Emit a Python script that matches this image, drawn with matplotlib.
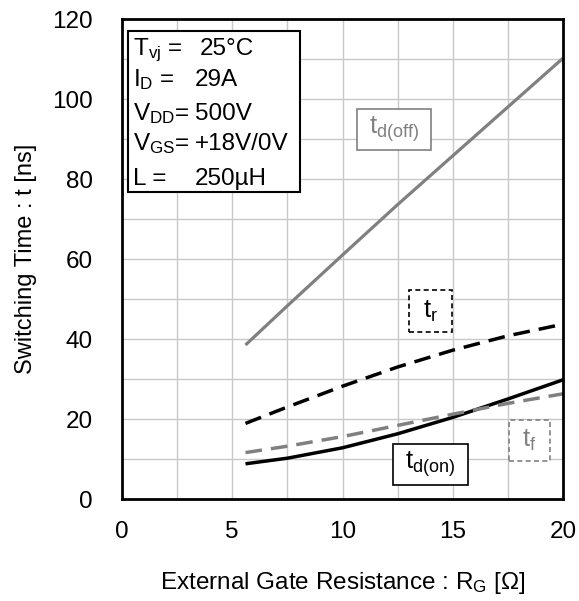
import matplotlib
matplotlib.use("Agg")
import matplotlib.pyplot as plt
from matplotlib.patches import Rectangle
from matplotlib.ticker import MultipleLocator

plt.rcParams['font.family'] = ['Liberation Sans', 'DejaVu Sans']
plt.rcParams['mathtext.default'] = 'regular'

## data (R_G in ohm, times in ns)
rg = [5.6, 7.5, 10, 12.5, 15, 17.5, 20]
t_doff = [38.5, 48.3, 61.0, 73.6, 85.8, 98.0, 110.2]
t_r = [18.9, 23.0, 28.2, 33.0, 37.2, 40.8, 43.7]
t_don = [8.8, 10.2, 12.8, 16.3, 20.4, 25.0, 29.8]
t_f = [11.6, 13.2, 15.6, 18.4, 21.2, 23.9, 26.3]

cond_names = ["T$_{vj}$ =", "I$_{D}$ =", "V$_{DD}$=", "V$_{GS}$=", "L ="]
cond_values = ["25°C", "29A", "500V", "+18V/0V", "250µH"]

gray = "#808080"

fig = plt.figure(figsize=(5.79, 6.01), dpi=100)
ax = fig.add_axes([122/579, 1 - 499/601, 441/579, 480/601])

ax.plot(rg, t_doff, color=gray, lw=2.3, solid_capstyle='butt')
ax.plot(rg, t_don, color='black', lw=2.5, solid_capstyle='butt')
ax.plot(rg, t_r, color='black', lw=2.5, dashes=(4.8, 2.6))
ax.plot(rg, t_f, color=gray, lw=2.5, dashes=(4.8, 2.6))

ax.set_xlim(0, 20)
ax.set_ylim(0, 120)
ax.xaxis.set_major_locator(MultipleLocator(5))
ax.xaxis.set_minor_locator(MultipleLocator(2.5))
ax.yaxis.set_major_locator(MultipleLocator(20))
ax.yaxis.set_minor_locator(MultipleLocator(10))
ax.grid(which='both', color='#c8c8c8', lw=1.0)
ax.set_axisbelow(True)
ax.tick_params(which='both', length=0, labelsize=17.5)
ax.tick_params(axis='y', pad=21)
ax.tick_params(axis='x', pad=16)
for s in ax.spines.values():
    s.set_linewidth(2.0)

ax.set_xlabel("External Gate Resistance : R$_{G}$ [Ω]", fontsize=17.5)
ax.set_ylabel("Switching Time : t [ns]", fontsize=17)
ax.xaxis.set_label_coords(0.5, -0.148)
ax.yaxis.set_label_coords(-0.193, 0.5)

## condition box
ax.add_patch(Rectangle((0.27, 76.8), 7.8, 40.3, fill=True, fc='white',
                       ec='black', lw=1.5, zorder=3))
base_y = [111.0, 103.3, 94.75, 87.25, 78.5]
for name, val, y in zip(cond_names, cond_values, base_y):
    ax.text(0.5, y, name, fontsize=17.5, va='baseline', ha='left', zorder=4)
    vx = 3.54 if val == "25°C" else 3.31
    ax.text(vx, y, val, fontsize=17.5, va='baseline', ha='left', zorder=4)

## curve labels
def label_box(x0, x1, y0, y1, txt, col, ls):
    ax.add_patch(Rectangle((x0, y0), x1 - x0, y1 - y0, fill=True, fc='white',
                           ec=col, lw=1.2, ls=ls, zorder=3))
    ax.text((x0 + x1) / 2, (y0 + y1) / 2, txt, color=col, fontsize=18.5,
            ha='center', va='center', zorder=4)

label_box(10.66, 14.01, 87.25, 97.5, "t$_{d(off)}$", gray, '-')
label_box(13.02, 14.97, 41.8, 52.25, "t$_{r}$", 'black', (0, (3, 2)))
label_box(17.55, 19.41, 9.5, 19.75, "t$_{f}$", gray, (0, (3, 2)))
label_box(12.29, 15.68, 3.5, 13.75, "t$_{d(on)}$", 'black', '-')

fig.savefig("out.png", dpi=100)
